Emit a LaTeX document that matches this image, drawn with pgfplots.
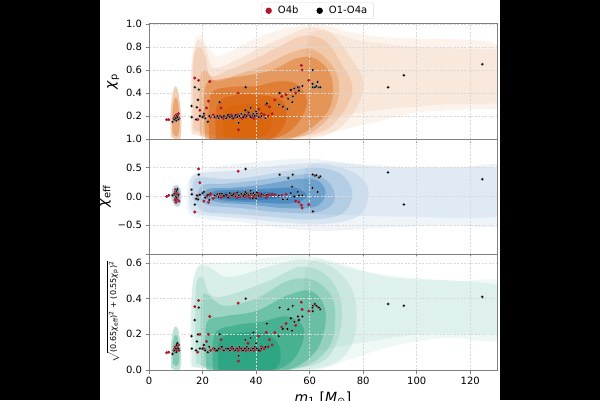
\documentclass[border=0pt]{standalone}
\usepackage{pgfplots}
\pgfplotsset{compat=1.18}
\usepackage{pgfplotstable}
\usepackage{fontspec}
\setmainfont{DejaVu Sans}

\definecolor{cO}{RGB}{217,95,2}
\definecolor{cB}{RGB}{33,113,181}
\definecolor{cG}{RGB}{27,158,119}
\definecolor{cR}{RGB}{178,24,43}

\pgfplotstableread{
m1 chip chieff chiperp
8.8 0.15 0.02 0.09
9.5 0.17 0.05 0.11
10.0 0.18 0.00 0.12
10.3 0.20 0.10 0.14
10.6 0.19 0.13 0.15
11.0 0.17 0.03 0.12
10.2 0.16 -0.02 0.10
15.9 0.287 0.12 0.19
16.0 0.19 0.04 0.12
17.1 0.45 -0.14 0.28
18.6 0.43 0.38 0.35
18.3 0.34 -0.05 0.20
17.9 0.276 0.02 0.16
19.0 0.20 0.03 0.12
17.6 0.17 -0.04 0.11
20.0 0.19 0.06 0.12
21.0 0.18 -0.02 0.11
22.0 0.15 0.03 0.10
22.5 0.20 -0.06 0.13
20.5 0.22 0.08 0.14
24.5 0.19 0.02 0.12
25.5 0.20 0.04 0.11
26.0 0.18 -0.01 0.12
27.2 0.19 0.05 0.13
28.0 0.20 0.01 0.11
28.8 0.18 0.03 0.12
29.5 0.21 -0.02 0.12
30.2 0.19 0.06 0.11
31.0 0.20 0.02 0.13
31.5 0.18 0.04 0.12
32.3 0.21 0.00 0.11
33.0 0.19 0.07 0.12
33.8 0.20 0.03 0.13
34.5 0.22 0.05 0.12
35.2 0.19 0.01 0.11
35.8 0.21 0.04 0.12
36.5 0.20 0.06 0.13
37.2 0.23 0.02 0.12
38.0 0.19 0.05 0.11
38.8 0.21 -0.03 0.12
39.5 0.20 0.03 0.13
40.3 0.22 0.07 0.12
41.0 0.19 0.01 0.11
42.0 0.20 0.04 0.12
43.5 0.18 0.02 0.13
26.4 0.32 0.05 0.20
33.5 0.14 0.02 0.08
36.1 0.45 0.48 0.40
36.0 0.25 0.08 0.17
38.0 0.27 0.10 0.18
40.0 0.24 -0.03 0.15
44.0 0.31 0.03 0.26
39.0 0.22 0.06 0.21
48.8 0.40 0.38 0.35
48.5 0.30 0.02 0.19
50.0 0.28 -0.05 0.23
52.0 0.35 0.32 0.34
51.7 0.26 -0.05 0.23
53.7 0.37 0.38 0.36
53.5 0.32 0.17 0.22
53.0 0.426 0.06 0.29
54.3 0.44 0.00 0.27
55.6 0.45 0.08 0.30
57.3 0.46 0.02 0.30
56.0 0.42 0.02 0.28
61.2 0.60 0.38 0.36
61.2 0.45 -0.26 0.33
61.1 0.48 0.15 0.35
63.0 0.495 0.08 0.355
62.0 0.45 0.36 0.37
63.5 0.45 0.33 0.35
64.0 0.45 0.35 0.34
62.5 0.46 0.37 0.36
89.3 0.45 0.42 0.37
95.2 0.554 -0.14 0.36
124.5 0.65 0.30 0.41
}\blackdata

\pgfplotstableread{
m1 chip chieff chiperp
6.6 0.168 0.00 0.097
7.4 0.168 0.02 0.10
9.3 0.18 0.03 0.11
9.6 0.19 0.05 0.12
9.8 0.20 0.08 0.13
10.0 0.19 -0.03 0.12
10.2 0.21 0.06 0.13
10.4 0.18 0.10 0.12
10.5 0.17 -0.05 0.11
10.7 0.20 0.00 0.12
11.0 0.22 0.04 0.14
11.2 0.18 -0.08 0.11
9.9 0.17 0.12 0.115
10.1 0.195 -0.10 0.125
10.3 0.185 0.02 0.135
9.7 0.175 -0.06 0.105
17.1 0.53 -0.27 0.355
18.5 0.51 0.48 0.39
22.7 0.50 0.02 0.30
22.2 0.33 -0.10 0.20
19.0 0.25 0.24 0.20
21.5 0.27 0.00 0.16
18.2 0.17 0.01 0.10
20.5 0.20 -0.08 0.12
23.0 0.19 0.05 0.11
24.0 0.21 -0.03 0.12
25.0 0.19 0.01 0.11
26.5 0.20 0.03 0.12
27.8 0.18 0.00 0.11
29.0 0.19 0.02 0.12
30.0 0.20 -0.01 0.11
30.7 0.21 0.03 0.12
31.3 0.18 0.01 0.12
32.0 0.19 0.04 0.11
32.7 0.20 -0.02 0.12
33.3 0.21 0.02 0.11
34.0 0.19 0.00 0.12
34.8 0.18 0.03 0.11
35.5 0.20 -0.01 0.12
36.2 0.19 0.02 0.11
37.0 0.21 0.01 0.12
37.7 0.20 -0.02 0.11
38.5 0.19 0.03 0.12
39.2 0.18 0.00 0.11
40.0 0.20 0.02 0.12
41.5 0.19 0.01 0.11
43.0 0.21 0.03 0.12
44.5 0.20 0.02 0.13
46.0 0.22 0.04 0.14
26.9 0.27 -0.02 0.17
33.3 0.40 0.44 0.375
33.4 0.08 0.00 0.05
41.0 0.26 0.05 0.19
43.8 0.30 -0.02 0.21
45.0 0.28 0.03 0.17
42.0 0.22 0.01 0.13
37.0 0.23 0.04 0.15
49.6 0.37 0.02 0.24
51.2 0.385 0.04 0.26
54.8 0.40 -0.08 0.25
56.0 0.45 -0.10 0.28
56.9 0.64 -0.15 0.38
57.2 0.60 -0.20 0.34
59.7 0.51 -0.14 0.33
47.0 0.34 0.03 0.21
}\reddata

\pgfplotsset{
  panel/.style={
    scale only axis, width=348pt,
    xmin=0, xmax=130, xtick={0,20,40,60,80,100,120},
    grid=major, grid style={gray!30, dash pattern=on 2pt off 1.5pt, line width=0.6pt},
    axis line style={gray, line width=1pt},
    tick style={gray, line width=0.8pt},
    tick align=outside, tick pos=left, major tick length=3.5pt,
    axis on top,
    ticklabel style={font=\fontsize{10}{12}\selectfont, text=black},
    /pgf/number format/assume math mode=true,
    ylabel style={font=\fontsize{14}{16}\selectfont},
    clip=true,
  },
  cloud/.style={draw=none, fill=#1, smooth, tension=0.6, forget plot},
  redpts/.style={only marks, color=cR, mark=*, mark size=1.3pt, mark options={draw=none, fill=cR}},
  blkpts/.style={only marks, color=black, mark=*, mark size=1.5pt, mark options={draw=white!60!gray, line width=0.15pt, fill=black}},
}

\begin{document}
\begin{tikzpicture}
\fill[white] (0,0) rectangle (600pt,400pt);
\fill[black] (0,0) rectangle (100pt,400pt);
\fill[black] (500pt,0) rectangle (600pt,400pt);

% ---------------- top panel: chi_p
\begin{axis}[panel, at={(149pt,261pt)}, anchor=south west, height=115pt,
  ymin=0, ymax=1, ytick={0.2,0.4,0.6,0.8,1.0}, yticklabels={0.2,0.4,0.6,0.8,1.0},
  xticklabels={},
  ylabel={\textit{χ}\textsubscript{p}},
  legend style={at={(0.484,1)}, anchor=south, yshift=5pt, legend columns=2,
    draw=gray!30, rounded corners=2pt, font=\fontsize{10}{11}\selectfont,
    inner xsep=4pt, inner ysep=1.5pt,
    /tikz/every odd column/.append style={column sep=4pt},
    /tikz/every even column/.append style={column sep=16pt}},
  legend image code/.code={\fill[#1, draw=none] (0.1cm,0cm) circle (3.2pt);},
]
\addplot[cloud=cO, fill opacity=0.07] coordinates {(15.5,0.05) (15.5,0.55) (17,0.85) (19.5,0.9) (22,0.8) (26,0.72) (35,0.82) (45,0.92) (55,0.98) (65,0.99) (75,0.93) (90,0.88) (110,0.87) (128,0.84) (134,0.7) (134,0.3) (120,0.26) (100,0.23) (85,0.15) (72,0.08) (60,0.02) (40,0.01) (25,0.02) (15.5,0.05)};
\addplot[cloud=cO, fill opacity=0.07] coordinates {(60,0.15) (60,0.9) (80,0.85) (100,0.8) (125,0.78) (134,0.75) (134,0.35) (110,0.3) (85,0.25) (60,0.15)};
\addplot[cloud=cO, fill opacity=0.1] coordinates {(16,0.04) (16,0.6) (18,0.85) (21,0.8) (24,0.62) (32,0.68) (42,0.8) (52,0.9) (60,0.97) (68,0.92) (75,0.72) (80,0.5) (77,0.25) (68,0.05) (55,-0.01) (40,-0.02) (25,0.0) (16,0.04)};
\addplot[cloud=cO, fill opacity=0.14] coordinates {(16.5,0.08) (16.5,0.65) (18.5,0.8) (21,0.72) (23,0.55) (30,0.6) (40,0.7) (50,0.82) (58,0.9) (66,0.85) (72,0.65) (76,0.45) (73,0.25) (66,0.08) (55,0.02) (40,0.015) (25,0.03) (16.5,0.08)};
\addplot[cloud=cO, fill opacity=0.2] coordinates {(19,0.03) (19,0.5) (21,0.6) (25,0.5) (33,0.56) (43,0.64) (53,0.75) (61,0.78) (69,0.62) (71,0.4) (67,0.18) (57,0.02) (40,-0.02) (25,0.0) (19,0.03)};
\addplot[cloud=cO, fill opacity=0.35] coordinates {(21,0.0) (21,0.45) (27,0.52) (36,0.55) (46,0.6) (55,0.7) (62,0.7) (68,0.55) (68,0.3) (62,0.12) (52,0.0) (36,-0.02) (21,0.0)};
\addplot[cloud=cO, fill opacity=0.45] coordinates {(22.5,0.0) (23,0.38) (30,0.45) (40,0.46) (48,0.5) (55,0.48) (59,0.33) (55,0.12) (46,0.0) (30,-0.02) (22.5,0)};
\addplot[cloud=cO, fill opacity=0.55] coordinates {(25,0.0) (25.5,0.3) (32,0.38) (42,0.38) (50,0.33) (51,0.15) (45,0.0) (30,-0.02) (25,0)};
\addplot[cloud=cO, fill opacity=0.45] coordinates {(28,0.02) (28,0.25) (34,0.3) (42,0.3) (46,0.22) (44,0.05) (36,0.0) (28,0.02)};
\addplot[cloud=cO, fill opacity=0.3] coordinates {(8.3,0.02) (8.0,0.22) (9.3,0.44) (10.8,0.42) (12.0,0.2) (11.6,0.0) (8.3,0.02)};
\addplot[cloud=cO, fill opacity=0.35] coordinates {(8.8,0.05) (8.8,0.25) (9.8,0.36) (11.0,0.3) (11.4,0.1) (10.5,0.02) (8.8,0.05)};
\addplot[redpts] table[x=m1, y=chip] \reddata;
\addlegendentry{O4b}
\addplot[blkpts] table[x=m1, y=chip] \blackdata;
\addlegendentry{O1-O4a}
\draw[black, line width=1pt] (rel axis cs:0,0) -- (rel axis cs:1,0);
\end{axis}

% ---------------- middle panel: chi_eff
\begin{axis}[panel, at={(149pt,146pt)}, anchor=south west, height=115pt,
  ymin=-1, ymax=1, ytick={-1,-0.5,0,0.5,1}, yticklabels={,−0.5,0.0,0.5,1.0},
  xticklabels={},
  ylabel={\textit{χ}\textsubscript{eff}},
]
\addplot[cloud=cB, fill opacity=0.07] coordinates {(14,0) (15,0.3) (20,0.45) (30,0.55) (45,0.62) (60,0.66) (75,0.58) (95,0.52) (115,0.5) (134,0.5) (134,-0.45) (110,-0.5) (85,-0.55) (65,-0.6) (50,-0.55) (35,-0.45) (22,-0.4) (15,-0.3) (14,0)};
\addplot[cloud=cB, fill opacity=0.07] coordinates {(60,-0.3) (60,0.55) (90,0.5) (134,0.45) (134,-0.3) (95,-0.35) (60,-0.3)};
\addplot[cloud=cB, fill opacity=0.1] coordinates {(15,0) (16,0.35) (22,0.42) (32,0.45) (45,0.52) (60,0.58) (72,0.5) (80,0.3) (82,0) (78,-0.35) (65,-0.48) (50,-0.45) (35,-0.38) (22,-0.33) (16,-0.25) (15,0)};
\addplot[cloud=cB, fill opacity=0.14] coordinates {(16,0) (17,0.3) (22,0.33) (30,0.3) (40,0.35) (52,0.45) (63,0.5) (72,0.38) (76,0.05) (72,-0.3) (60,-0.4) (45,-0.35) (30,-0.3) (20,-0.25) (16,0)};
\addplot[cloud=cB, fill opacity=0.2] coordinates {(18,0) (20,0.2) (28,0.22) (40,0.28) (52,0.36) (62,0.38) (68,0.2) (69,-0.1) (62,-0.28) (48,-0.27) (34,-0.2) (22,-0.15) (18,0)};
\addplot[cloud=cB, fill opacity=0.35] coordinates {(20,0) (22,0.13) (30,0.15) (42,0.2) (55,0.3) (63,0.28) (66,0.05) (62,-0.18) (50,-0.2) (38,-0.14) (26,-0.1) (20,0)};
\addplot[cloud=cB, fill opacity=0.45] coordinates {(23,0.0) (25,0.1) (35,0.12) (46,0.14) (55,0.15) (59,0.0) (53,-0.12) (40,-0.1) (28,-0.07) (23,0)};
\addplot[cloud=cB, fill opacity=0.55] coordinates {(26,0.0) (28,0.07) (38,0.08) (46,0.07) (49,-0.02) (41,-0.06) (30,-0.05) (26,0)};
\addplot[cloud=cB, fill opacity=0.3] coordinates {(8.3,0.0) (8.8,0.15) (10.3,0.2) (11.8,0.12) (12,-0.1) (10.5,-0.18) (8.8,-0.1) (8.3,0)};
\addplot[cloud=cB, fill opacity=0.35] coordinates {(9,0.0) (9.5,0.1) (10.5,0.14) (11.4,0.05) (11.2,-0.08) (10,-0.1) (9,0)};
\addplot[redpts] table[x=m1, y=chieff] \reddata;
\addplot[blkpts] table[x=m1, y=chieff] \blackdata;
\end{axis}

% ---------------- bottom panel: chi_perp combination
\begin{axis}[panel, at={(149pt,30pt)}, anchor=south west, height=116pt,
  ymin=0, ymax=0.65, ytick={0,0.2,0.4,0.6}, yticklabels={0.0,0.2,0.4,0.6},
  xticklabels={0,20,40,60,80,100,120},
  ylabel={$\sqrt{\mbox{(0.65\textit{χ}\textsubscript{eff})\textsuperscript{2} + (0.55\textit{χ}\textsubscript{p})\textsuperscript{2}}}$},
  ylabel style={font=\fontsize{8}{9}\selectfont},
  xlabel={\textit{m}\textsubscript{1} [\textit{M}\textsubscript{⊙}]},
  xlabel style={font=\fontsize{14}{16}\selectfont},
]
\addplot[cloud=cG, fill opacity=0.07] coordinates {(15.5,0.02) (15.5,0.35) (17.5,0.55) (21,0.6) (30,0.6) (45,0.63) (60,0.64) (75,0.57) (95,0.52) (115,0.5) (134,0.48) (134,0.18) (110,0.18) (90,0.13) (75,0.06) (62,0.0) (40,-0.01) (25,0.0) (15.5,0.02)};
\addplot[cloud=cG, fill opacity=0.07] coordinates {(60,0.1) (60,0.6) (90,0.52) (134,0.46) (134,0.22) (100,0.2) (60,0.1)};
\addplot[cloud=cG, fill opacity=0.1] coordinates {(16,0.02) (16,0.42) (18,0.57) (22,0.58) (30,0.52) (45,0.58) (58,0.62) (70,0.56) (77,0.4) (76,0.15) (66,0.02) (40,-0.01) (25,0.0) (16,0.02)};
\addplot[cloud=cG, fill opacity=0.14] coordinates {(17.5,0.04) (17.5,0.45) (20,0.52) (23,0.42) (30,0.42) (45,0.5) (57,0.58) (67,0.52) (72,0.36) (70,0.15) (62,0.03) (40,0.0) (25,0.01) (17.5,0.04)};
\addplot[cloud=cG, fill opacity=0.2] coordinates {(19.5,0.02) (19.5,0.38) (22,0.42) (28,0.36) (40,0.4) (52,0.5) (62,0.5) (69,0.38) (68,0.15) (58,0.02) (40,-0.01) (25,0.0) (19.5,0.02)};
\addplot[cloud=cG, fill opacity=0.35] coordinates {(21.5,0.0) (21.5,0.26) (28,0.3) (40,0.33) (52,0.42) (61,0.44) (66,0.32) (63,0.12) (52,0.0) (35,-0.01) (21.5,0)};
\addplot[cloud=cG, fill opacity=0.45] coordinates {(24,0.0) (24.5,0.2) (32,0.25) (42,0.27) (52,0.3) (58,0.22) (54,0.06) (44,-0.01) (24,0)};
\addplot[cloud=cG, fill opacity=0.55] coordinates {(26,0.0) (26.5,0.17) (35,0.21) (44,0.2) (49,0.12) (46,0.0) (26,0)};
\addplot[cloud=cG, fill opacity=0.3] coordinates {(8.3,0.01) (8.3,0.15) (9.5,0.24) (11,0.22) (12,0.1) (11.4,0.0) (8.3,0.01)};
\addplot[cloud=cG, fill opacity=0.35] coordinates {(8.8,0.04) (8.9,0.15) (9.9,0.2) (11,0.16) (11.3,0.06) (10.4,0.02) (8.8,0.04)};
\addplot[redpts] table[x=m1, y=chiperp] \reddata;
\addplot[blkpts] table[x=m1, y=chiperp] \blackdata;
\end{axis}

\pgfresetboundingbox
\path[use as bounding box] (0,0) rectangle (600pt,400pt);
\end{tikzpicture}
\end{document}
